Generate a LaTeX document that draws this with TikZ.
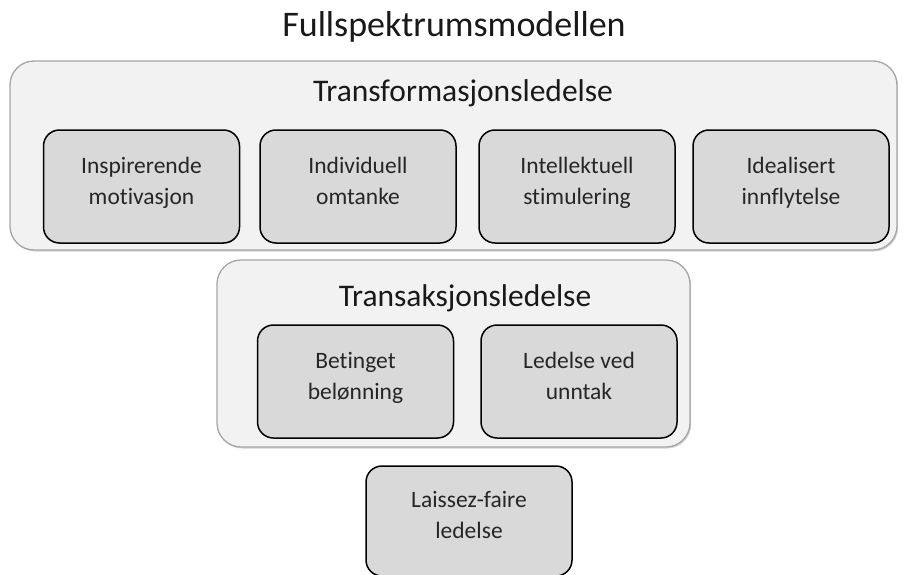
\documentclass[tikz,border=0pt]{standalone}
\usepackage{fontspec}
\setmainfont{Carlito}[Ligatures=NoCommon]
\usetikzlibrary{shadows}

% two lines of a box, with fixed top and bottom so all boxes line up
\newcommand{\boxtext}[2]{\rule{0pt}{20pt}#1\\#2\rule[-16pt]{0pt}{16pt}}

\begin{document}
\begin{tikzpicture}[x=1pt, y=-1pt,
  group/.style={rectangle, rounded corners=24pt, draw=black!35, fill=black!5, line width=1.3pt,
    drop shadow={shadow xshift=1.2pt, shadow yshift=-1.5pt, opacity=0.35}},
  item/.style={rectangle, rounded corners=16pt, draw=black, fill=black!15, line width=1.5pt,
    minimum width=196pt, minimum height=113pt, align=center, text=black!85,
    font=\fontsize{23.5}{31}\selectfont},
  heading/.style={anchor=base, text=black!90, font=\fontsize{31.5}{38}\selectfont}]
\useasboundingbox (0,0) rectangle (904,575);

\node (T) at (454, 37) [anchor=base, text=black!90, font=\fontsize{36}{44}\selectfont] {Fullspektrumsmodellen};

% transformasjonsledelse
\node (G1) at (453.5, 155.5) [group, minimum width=887pt, minimum height=189pt] {};
\node (H1) at (463, 102) [heading] {Transformasjonsledelse};
\node (A) at (141.5, 186.5) [item] {\boxtext{Inspirerende}{motivasjon}};
\node (B) at (358, 186.5) [item] {\boxtext{Individuell}{omtanke}};
\node (C) at (577, 186.5) [item] {\boxtext{Intellektuell}{stimulering}};
\node (D) at (791, 186.5) [item] {\boxtext{Idealisert}{innflytelse}};

% transaksjonsledelse
\node (G2) at (453.5, 353.5) [group, minimum width=473pt, minimum height=187pt] {};
\node (H2) at (465, 306) [heading] {Transaksjonsledelse};
\node (E) at (355.5, 381.5) [item] {\boxtext{Betinget}{belønning}};
\node (F) at (579, 381.5) [item] {\boxtext{Ledelse ved}{unntak}};

% laissez-faire
\node (L) at (469, 521) [item, minimum width=206pt, minimum height=110pt] {\boxtext{Laissez-faire}{ledelse}};
\end{tikzpicture}
\end{document}
